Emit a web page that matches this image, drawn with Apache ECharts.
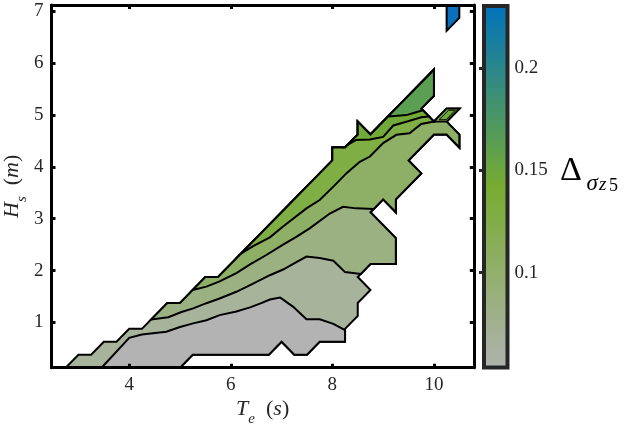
<!DOCTYPE html>
<html><head><meta charset="utf-8">
<script src="https://cdn.jsdelivr.net/npm/echarts@6/dist/echarts.min.js"></script>
<style>html,body{margin:0;padding:0;background:#fff}#c{width:631px;height:431px}</style>
</head><body><div id="c"></div>
<script>
// ---- axis ranges & ticks ----
const teRange = [2.47, 10.785];
const hsRange = [0.125, 7.125];
const teTicks = [4, 6, 8, 10];
const hsTicks = [1, 2, 3, 4, 5, 6, 7];
const cbRange = [0.0536, 0.2305];
const cbTicks = [0.1, 0.15, 0.2];

// ---- filled contour regions, vertices as [Te (s), Hs (m)] ----
const outerRegion = [[2.75,0.125],[3.0,0.375],[3.25,0.375],[3.5,0.625],[3.75,0.625],[4.0,0.875],[4.25,0.875],[4.75,1.375],[5.0,1.375],[5.5,1.875],[5.75,1.875],[8.0,4.125],[8.0,4.375],[8.25,4.375],[8.5,4.625],[8.5,4.875],[8.75,4.625],[10.0,5.875],[10.0,5.375],[9.75,5.125],[10.0,4.875],[10.25,5.125],[10.5,5.125],[10.25,4.875],[10.5,4.625],[10.5,4.375],[10.25,4.625],[10.0,4.625],[9.5,4.125],[9.75,3.875],[9.25,3.375],[9.25,3.125],[9.0,3.375],[8.75,3.125],[9.25,2.625],[9.25,2.125],[8.75,2.125],[8.5,1.875],[8.75,1.625],[8.5,1.375],[8.5,1.125],[8.25,0.875],[8.25,0.625],[7.75,0.625],[7.5,0.375],[7.25,0.375],[7.0,0.625],[6.75,0.375],[5.25,0.375],[5.0,0.125]];

const grayRegion = [[3.455,0.125],[4.0,0.7],[4.25,0.765],[4.73,0.82],[5.0,0.91],[5.26,0.98],[5.52,1.04],[5.78,1.14],[6.11,1.21],[6.38,1.29],[6.6,1.37],[6.77,1.44],[6.97,1.48],[7.03,1.44],[7.23,1.30],[7.49,1.06],[7.75,1.06],[8.02,0.97],[8.25,0.85],[8.25,0.625],[7.75,0.625],[7.5,0.375],[7.25,0.375],[7.0,0.625],[6.75,0.375],[5.25,0.375],[5.0,0.125]];

const level2Region = [[4.43,1.055],[4.77,1.1],[5.03,1.2],[5.26,1.27],[5.52,1.37],[5.78,1.46],[6.11,1.59],[6.38,1.72],[6.77,1.91],[7.03,2.02],[7.23,2.13],[7.49,2.27],[7.75,2.24],[8.02,2.19],[8.25,1.97],[8.56,1.935],[8.75,2.125],[9.25,2.125],[9.25,2.625],[8.75,3.125],[9.0,3.375],[9.25,3.125],[9.25,3.375],[9.75,3.875],[9.5,4.125],[10.0,4.625],[10.25,4.625],[10.5,4.375],[10.5,4.625],[10.25,4.875],[10.5,5.125],[10.25,5.125],[10.0,4.875],[9.75,5.125],[10.0,5.375],[10.0,5.875],[8.75,4.625],[8.5,4.875],[8.5,4.625],[8.25,4.375],[8.0,4.375],[8.0,4.125],[5.75,1.875],[5.5,1.875],[5.0,1.375],[4.75,1.375]];

const level3Region = [[5.25,1.625],[5.52,1.69],[5.78,1.79],[6.11,1.95],[6.38,2.12],[6.7,2.3],[7.03,2.5],[7.29,2.65],[7.56,2.82],[7.95,3.1],[8.21,3.23],[8.47,3.2],[8.815,3.19],[9.0,3.375],[9.25,3.125],[9.25,3.375],[9.75,3.875],[9.5,4.125],[10.0,4.625],[10.25,4.625],[10.5,4.375],[10.5,4.625],[10.25,4.875],[10.5,5.125],[10.25,5.125],[10.0,4.875],[9.75,5.125],[10.0,5.375],[10.0,5.875],[8.75,4.625],[8.5,4.875],[8.5,4.625],[8.25,4.375],[8.0,4.375],[8.0,4.125],[5.75,1.875],[5.5,1.875]];

const level4Region = [[6.2,2.325],[6.44,2.47],[6.77,2.64],[7.03,2.85],[7.49,3.2],[7.75,3.36],[8.02,3.62],[8.28,3.88],[8.54,4.1],[8.74,4.2],[9.0,4.46],[9.26,4.62],[9.52,4.65],[9.75,4.83],[10.0,4.875],[9.75,5.125],[10.0,5.375],[10.0,5.875],[8.75,4.625],[8.5,4.875],[8.5,4.625],[8.25,4.375],[8.0,4.375],[8.0,4.125]];

const level5Region = [[8.3,4.425],[8.47,4.52],[8.74,4.53],[9.0,4.58],[9.2,4.8],[9.49,4.88],[9.75,4.96],[9.9,4.975],[9.75,5.125],[10.0,5.375],[10.0,5.875],[8.75,4.625],[8.5,4.875],[8.5,4.625]];

const level6Region = [[9.1,4.975],[9.46,5.0],[9.6,5.04],[9.78,5.095],[9.75,5.125],[10.0,5.375],[10.0,5.875]];

const stripRegion = [[10.0,4.875],[10.25,5.125],[10.5,5.125],[10.25,4.875]];
const stripInner = [[10.1,4.91],[10.29,5.095],[10.42,5.095],[10.24,4.91]];

const blueRegion = [[10.25,7.125],[10.25,6.625],[10.5,6.875],[10.5,7.125]];

// ---- styles ----
const fills = {
  outer: '#a7b49b', gray: '#b3b3b3', l2: '#9bb182', l3: '#8daf66',
  l4: '#7eae44', l5: '#72aa39', l6: '#5b9f52', blue: '#0b6fbc'
};
const regionList = [
  [outerRegion, fills.outer, 2], [grayRegion, fills.gray, 2], [level2Region, fills.l2, 2],
  [level3Region, fills.l3, 2], [level4Region, fills.l4, 2], [level5Region, fills.l5, 2],
  [level6Region, fills.l6, 2], [stripRegion, fills.l4, 1.6], [stripInner, fills.l5, 1],
  [blueRegion, fills.blue, 2]
];

const serif = '"Liberation Serif", "DejaVu Serif", serif';
const txtCol = '#262626';

function regionSeries(pts, fill, lw, i) {
  return {
    type: 'custom', xAxisIndex: 0, yAxisIndex: 0, z: 2 + i * 0.01, silent: true,
    data: [[pts[0][0], pts[0][1]]],
    renderItem: (params, api) => ({
      type: 'polygon',
      shape: { points: pts.map(p => api.coord(p)) },
      style: { fill: fill, stroke: '#000', lineWidth: lw, lineJoin: 'miter' }
    })
  };
}

const series = regionList.map((r, i) => regionSeries(r[0], r[1], r[2], i));

// colorbar
series.push({
  type: 'custom', xAxisIndex: 2, yAxisIndex: 2, silent: true, z: 2,
  data: [[0, cbRange[1]]],
  renderItem: (params, api) => {
    const a = api.coord([0, cbRange[1]]);
    const b = api.coord([1, cbRange[0]]);
    return {
      type: 'rect',
      shape: { x: a[0], y: a[1], width: b[0] - a[0], height: b[1] - a[1] },
      style: {
        fill: new echarts.graphic.LinearGradient(0, 0, 0, 1, [
          { offset: 0, color: '#0072bd' },
          { offset: 0.5, color: '#77ac30' },
          { offset: 1, color: '#b0b2b0' }
        ]),
        stroke: '#262626', lineWidth: 4
      }
    };
  }
});

const tickStyle = { color: '#000', width: 3 };
const lab = { fontFamily: serif, fontSize: 19, color: txtCol };
const richName = {
  i: { fontFamily: serif, fontStyle: 'italic', fontSize: 22, color: txtCol, lineHeight: 28, verticalAlign: 'top' },
  n: { fontFamily: serif, fontSize: 22, color: txtCol, lineHeight: 28, verticalAlign: 'top' },
  sub: { fontFamily: serif, fontStyle: 'italic', fontSize: 15, color: txtCol, lineHeight: 14, verticalAlign: 'bottom' }
};

const option = {
  animation: false,
  backgroundColor: '#fff',
  grid: [
    { left: 51.5, top: 5, width: 422.3, height: 362.7, containLabel: false, outerBoundsMode: 'none' },
    { left: 484, top: 6, width: 23.5, height: 361.5, containLabel: false, outerBoundsMode: 'none' }
  ],
  xAxis: [
    { gridIndex: 0, type: 'value', min: teRange[0], max: teRange[1], position: 'bottom', z: 10,
      axisLine: { show: true, onZero: false, lineStyle: { color: '#000', width: 3 } },
      axisTick: { show: true, inside: true, length: 4, lineStyle: tickStyle, customValues: teTicks },
      axisLabel: { show: true, margin: 8, customValues: teTicks, ...lab },
      splitLine: { show: false },
      name: '{i|T}{sub|e}{n|  (}{i|s}{n|)}', nameLocation: 'middle', nameGap: 31, nameMoveOverlap: false,
      nameTextStyle: { rich: richName } },
    { gridIndex: 0, type: 'value', min: teRange[0], max: teRange[1], position: 'top', z: 10,
      axisLine: { show: true, onZero: false, lineStyle: { color: '#000', width: 3 } },
      axisTick: { show: true, inside: true, length: 4, lineStyle: tickStyle, customValues: teTicks },
      axisLabel: { show: false }, splitLine: { show: false } },
    { gridIndex: 1, type: 'value', min: 0, max: 1, show: false }
  ],
  yAxis: [
    { gridIndex: 0, type: 'value', min: hsRange[0], max: hsRange[1], position: 'left', z: 10,
      axisLine: { show: true, onZero: false, lineStyle: { color: '#000', width: 3 } },
      axisTick: { show: true, inside: true, length: 4, lineStyle: tickStyle, customValues: hsTicks },
      axisLabel: { show: true, margin: 8, customValues: hsTicks, ...lab },
      splitLine: { show: false },
      name: '{i|H}{sub|s}{n|  (}{i|m}{n|)}', nameLocation: 'middle', nameGap: 22, nameRotate: 90, nameMoveOverlap: false,
      nameTextStyle: { rich: richName } },
    { gridIndex: 0, type: 'value', min: hsRange[0], max: hsRange[1], position: 'right', z: 10,
      axisLine: { show: true, onZero: false, lineStyle: { color: '#000', width: 3 } },
      axisTick: { show: true, inside: true, length: 4, lineStyle: tickStyle, customValues: hsTicks },
      axisLabel: { show: false }, splitLine: { show: false } },
    { gridIndex: 1, type: 'value', min: cbRange[0], max: cbRange[1], position: 'right', z: 10,
      axisLine: { show: false },
      axisTick: { show: true, inside: true, length: 5, lineStyle: { color: '#262626', width: 3 }, customValues: cbTicks },
      axisLabel: { show: true, margin: 7, customValues: cbTicks, ...lab },
      splitLine: { show: false } }
  ],
  graphic: [
    { type: 'text', x: 560, y: 171.5, style: { text: 'Δ', font: '34px "Liberation Serif"', fill: '#000', verticalAlign: 'middle' } },
    { type: 'text', x: 586.5, y: 184, style: { text: 'σ', font: 'italic 23px "Liberation Serif"', fill: '#000', verticalAlign: 'middle' } },
    { type: 'text', x: 599, y: 184.5, style: { text: 'z', font: 'italic 19px "Liberation Serif"', fill: '#000', verticalAlign: 'middle' } },
    { type: 'text', x: 609, y: 186, style: { text: '5', font: '18px "Liberation Serif"', fill: '#000', verticalAlign: 'middle' } }
  ],
  series: series
};

const chart = echarts.init(document.getElementById('c'), null, { renderer: 'canvas' });
chart.setOption(option);
</script>
</body></html>
